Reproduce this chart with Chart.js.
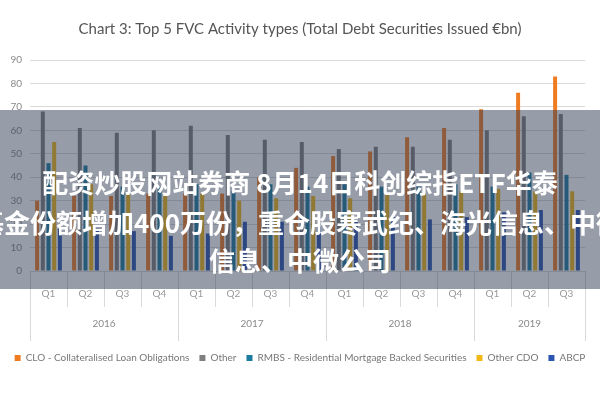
<!DOCTYPE html>
<html><head><meta charset="utf-8">
<script src="https://cdn.jsdelivr.net/npm/chart.js@4/dist/chart.umd.min.js"></script>
<style>
html,body{margin:0;padding:0;background:#fff;}
#wrap{position:relative;width:600px;height:400px;overflow:hidden;}
canvas{display:block;}
#band{position:absolute;left:0;top:110px;width:600px;height:179px;background:rgba(45,58,82,0.5);}
.line{position:absolute;left:0;width:600px;display:flex;justify-content:center;white-space:nowrap;color:#fff;font-weight:bold;font-size:26px;font-family:"Noto Sans CJK SC";line-height:30px;}
</style></head>
<body>
<div id="wrap">
<canvas id="c" width="600" height="400"></canvas>
<div id="band"></div>
<div class="line" style="top:167px"><span>配资炒股网站券商 8月14日科创综指ETF华泰</span></div>
<div class="line" style="top:207px"><span>基金份额增加400万份，重仓股寒武纪、海光信息、中微</span></div>
<div class="line" style="top:245px"><span>信息、中微公司</span></div>
</div>
<script>
const quarters = ['Q1','Q2','Q3','Q4','Q1','Q2','Q3','Q4','Q1','Q2','Q3','Q4','Q1','Q2','Q3'];
const quarterYears = ['2016','2016','2016','2016','2017','2017','2017','2017','2018','2018','2018','2018','2019','2019','2019'];
const clo      = [30, 32, 32, 33, 33, 33, 40, 44, 49, 51, 57, 61, 69, 76, 83];
const other    = [68, 61, 59, 60, 62, 58, 56, 55, 52, 53, 53, 56, 60, 66, 67];
const rmbs     = [46, 45, 36, 36, 37, 34, 37, 36, 37, 36, 36, 37, 36, 42, 41];
const otherCdo = [55, 37, 33, 33, 33, 30, 31, 32, 31, 33, 33, 34, 35, 34, 34];
const abcp     = [18, 18, 17, 15, 16, 21, 21, 19, 21, 23, 22, 23, 25, 26, 26];
const seriesNames = ['CLO - Collateralised Loan Obligations','Other','RMBS - Residential Mortgage Backed Securities','Other CDO','ABCP'];
const yTicks = [0,10,20,30,40,50,60,70,80,90];
const titleText = 'Chart 3: Top 5 FVC Activity types (Total Debt Securities Issued €bn)';

const colors = ['#F07C22','#7F7F7F','#1C7BA0','#F4B816','#2A55B0'];
const FONT = 'Lato';

const yearPlugin = {
  id: 'yearPlugin',
  afterDraw(chart) {
    const xs = chart.scales.x;
    const ca = chart.chartArea;
    const ctx = chart.ctx;
    const w = xs.getPixelForValue(1) - xs.getPixelForValue(0);
    ctx.save();
    ctx.strokeStyle = '#D9D9D9';
    ctx.lineWidth = 1;
    const n = quarters.length;
    for (let i = 0; i <= n; i++) {
      const x = Math.round(xs.getPixelForValue(Math.min(i, n-1)) + (i === n ? w/2 : -w/2)) + 0.5;
      const isYear = i === 0 || i === n || quarterYears[i] !== quarterYears[i-1];
      ctx.beginPath();
      ctx.moveTo(x, ca.bottom);
      ctx.lineTo(x, ca.bottom + (isYear ? 70 : 36));
      ctx.stroke();
    }
    ctx.fillStyle = '#8a8a8a';
    ctx.font = '10px ' + FONT;
    ctx.textAlign = 'center';
    ctx.textBaseline = 'middle';
    let start = 0;
    for (let i = 1; i <= n; i++) {
      if (i === n || quarterYears[i] !== quarterYears[start]) {
        const x0 = xs.getPixelForValue(start) - w/2;
        const x1 = xs.getPixelForValue(i-1) + w/2;
        ctx.fillText(quarterYears[start], (x0+x1)/2, ca.bottom + 53);
        start = i;
      }
    }
    ctx.restore();
  }
};

const data = {
  labels: quarters,
  datasets: [clo, other, rmbs, otherCdo, abcp].map((d, i) => ({
    label: seriesNames[i],
    data: d,
    backgroundColor: colors[i],
    borderWidth: 0,
    categoryPercentage: 0.77,
    barPercentage: 0.7
  }))
};

new Chart(document.getElementById('c'), {
  type: 'bar',
  data,
  plugins: [yearPlugin],
  options: {
    responsive: false,
    animation: false,
    devicePixelRatio: 1,
    layout: { padding: { left: 0, right: 0, top: 20, bottom: 27 } },
    plugins: {
      title: {
        display: true, text: titleText, color: '#555',
        font: { family: FONT, size: 15, weight: 'normal' },
        padding: { top: 0, bottom: 22 }
      },
      legend: {
        position: 'bottom',
        labels: {
          color: '#777', font: { family: FONT, size: 10 },
          boxWidth: 6, boxHeight: 6, padding: 10
        }
      },
      tooltip: { enabled: false }
    },
    scales: {
      x: {
        grid: { display: false, drawOnChartArea: false, drawTicks: false },
        border: { display: true, color: '#D9D9D9' },
        ticks: { color: '#999', font: { family: FONT, size: 10 }, padding: 17, maxRotation: 0 },
        afterFit(s) { s.height = 72; }
      },
      y: {
        min: 0, max: 90,
        afterBuildTicks(s) { s.ticks = yTicks.map(v => ({ value: v })); },
        grid: { color: '#D9D9D9', drawTicks: false },
        border: { display: false },
        ticks: { color: '#8a8a8a', font: { family: FONT, size: 10 }, padding: 8 },
        afterFit(s) { s.width = 30; }
      },
      yRight: {
        position: 'right',
        grid: { drawOnChartArea: false, display: false },
        border: { display: false },
        ticks: { display: false },
        afterFit(s) { s.width = 15; }
      }
    }
  }
});
</script>
</body></html>
